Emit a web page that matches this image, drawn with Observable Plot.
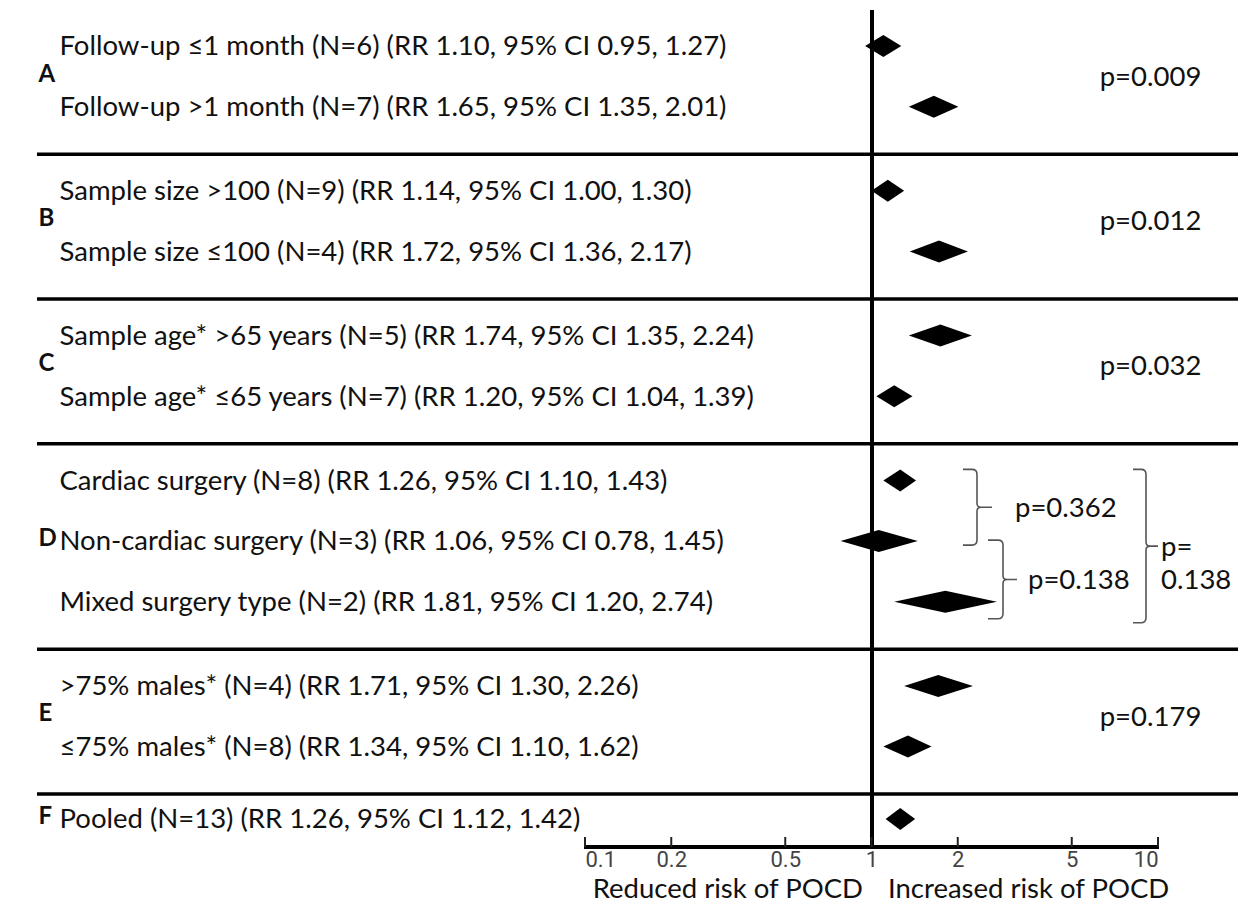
<!DOCTYPE html>
<html><head><meta charset="utf-8">
<script src="https://cdn.jsdelivr.net/npm/d3@7"></script>
<script src="https://cdn.jsdelivr.net/npm/@observablehq/plot@0.6"></script>
<style>
html,body{margin:0;padding:0;background:#fff;}
#chart svg{display:block;}
</style>
</head><body><div id="chart"></div>
<script>
// ---------- data ----------
const groups = ["A","A","B","B","C","C","D","D","D","E","E","F"];
const labels = [
  "Follow-up ≤1 month (N=6) (RR 1.10, 95% CI 0.95, 1.27)",
  "Follow-up >1 month (N=7) (RR 1.65, 95% CI 1.35, 2.01)",
  "Sample size >100 (N=9) (RR 1.14, 95% CI 1.00, 1.30)",
  "Sample size ≤100 (N=4) (RR 1.72, 95% CI 1.36, 2.17)",
  "Sample age* >65 years (N=5) (RR 1.74, 95% CI 1.35, 2.24)",
  "Sample age* ≤65 years (N=7) (RR 1.20, 95% CI 1.04, 1.39)",
  "Cardiac surgery (N=8) (RR 1.26, 95% CI 1.10, 1.43)",
  "Non-cardiac surgery (N=3) (RR 1.06, 95% CI 0.78, 1.45)",
  "Mixed surgery type (N=2) (RR 1.81, 95% CI 1.20, 2.74)",
  ">75% males* (N=4) (RR 1.71, 95% CI 1.30, 2.26)",
  "≤75% males* (N=8) (RR 1.34, 95% CI 1.10, 1.62)",
  "Pooled (N=13) (RR 1.26, 95% CI 1.12, 1.42)"
];
const rr     = [1.10, 1.65, 1.14, 1.72, 1.74, 1.20, 1.26, 1.06, 1.81, 1.71, 1.34, 1.26];
const ciLow  = [0.95, 1.35, 1.00, 1.36, 1.35, 1.04, 1.10, 0.78, 1.20, 1.30, 1.10, 1.12];
const ciHigh = [1.27, 2.01, 1.30, 2.17, 2.24, 1.39, 1.43, 1.45, 2.74, 2.26, 1.62, 1.42];
const groupPGroups = ["A","B","C","E"];
const groupPValues = ["p=0.009","p=0.012","p=0.032","p=0.179"];
const pairFrom = [6, 7, 6];
const pairTo   = [7, 8, 8];
const pairText = ["p=0.362", "p=0.138", "p=|0.138"];
const xTicks = [0.1, 0.2, 0.5, 1, 2, 5, 10];
const xTickLabels = ["0.1","0.2","0.5","1","2","5","10"];
const axisLabels = ["Reduced risk of POCD", "Increased risk of POCD"];

// ---------- layout (not data) ----------
const W = 1238, H = 908;
const ROW = 60.7;                   // px per row
const gapRatio = 23.4 / ROW;        // extra space between groups, in row units
const groupOrder = [...new Set(groups)];
const pooledGroup = groupOrder[groupOrder.length - 1];
// the pooled row sits closer to the subgroups (half a gap)
const gapCount = g => Math.min(groupOrder.indexOf(g), groupOrder.length - 2) + (g === pooledGroup ? 0.5 : 0);
const pos = groups.map((g, i) => i + gapCount(g) * gapRatio);
const yMax = pos[pos.length - 1];
const yRange = [46, 46 + ROW * yMax];
const halfH = 11 / ROW;             // diamond half-height in row units
const sepOffset = 47 / ROW;         // separator distance below a group's last row
const FONT = "Lato, 'Open Sans', 'Noto Sans', sans-serif";
const TICKFONT = "Roboto, 'Liberation Sans', sans-serif";
const MAIN_SIZE = 27.5;
const TICK_SIZE = 22;

const rows = labels.map((label, i) => ({label, group: groups[i], pos: pos[i], rr: rr[i], lo: ciLow[i], hi: ciHigh[i]}));
const diamondPts = rows.flatMap((r, i) => [
  {row: i, x: r.lo, y1: r.pos, y2: r.pos},
  {row: i, x: r.rr, y1: r.pos - halfH, y2: r.pos + halfH},
  {row: i, x: r.hi, y1: r.pos, y2: r.pos}
]);
const groupMid = g => d3.mean(rows.filter(r => r.group === g), r => r.pos);
const letters = groupOrder.map(g => ({g, pos: groupMid(g)}));
const separators = groupOrder.slice(0, -1).map(g =>
  d3.max(rows.filter(r => r.group === g), r => r.pos) + sepOffset);
const groupP = groupPGroups.map((g, i) => ({pos: groupMid(g), text: groupPValues[i]}));

// brace geometry (pixels): left x, spine x, tip x, text x, top pad, bottom pad
const braceLayout = [
  {x0: 963,  x1: 977,  x2: 992,  tx: 1015, top: -11, bottom: 4},
  {x0: 988,  x1: 1003, x2: 1017, tx: 1028, top: -1,  bottom: 17},
  {x0: 1133, x1: 1146, x2: 1158, tx: 1161, top: -11, bottom: 21}
];

function extras(index, scales, values, dims) {
  const xs = scales && scales.x ? scales.x : d3.scaleLog([0.1, 10], [585, 1158]);
  const ys = scales && scales.y ? scales.y : d3.scaleLinear([0, yMax], yRange);
  const g = d3.create("svg:g");
  const yAxis = dims.height - dims.marginBottom;
  // axis line + ticks
  g.append("line").attr("x1", xs(0.1) - 1).attr("x2", xs(10) + 1)
    .attr("y1", yAxis).attr("y2", yAxis).attr("stroke", "#000").attr("stroke-width", 4);
  for (const t of xTicks) {
    g.append("line").attr("x1", xs(t)).attr("x2", xs(t))
      .attr("y1", yAxis - 10).attr("y2", yAxis).attr("stroke", "#222").attr("stroke-width", 2);
  }
  // braces
  pairFrom.forEach((f, k) => {
    const L = braceLayout[k];
    const top = ys(pos[f]) + L.top, bot = ys(pos[pairTo[k]]) + L.bottom, mid = (top + bot) / 2;
    const r = 5;
    const d = `M${L.x0},${top} L${L.x1 - r},${top} Q${L.x1},${top} ${L.x1},${top + r}`
      + ` L${L.x1},${mid - 4} Q${L.x1},${mid} ${L.x1 + 4},${mid} L${L.x2},${mid}`
      + ` M${L.x1 + 4},${mid} Q${L.x1},${mid} ${L.x1},${mid + 4}`
      + ` L${L.x1},${bot - r} Q${L.x1},${bot} ${L.x1 - r},${bot} L${L.x0},${bot}`;
    g.append("path").attr("d", d).attr("fill", "none").attr("stroke", "#555").attr("stroke-width", 1.6);
    const lines = pairText[k].split("|");
    lines.forEach((ln, j) => {
      g.append("text").attr("x", L.tx).attr("y", mid + j * 33).attr("dy", "0.35em")
        .attr("text-anchor", "start")
        .attr("font-family", FONT).attr("font-size", MAIN_SIZE).attr("fill", "#111").text(ln);
    });
  });
  return g.node();
}

const plot = Plot.plot({
  width: W, height: H,
  marginTop: 10, marginBottom: 61, marginLeft: 37, marginRight: 0,
  x: {type: "log", domain: [0.1, 10], range: [585, 1158], axis: null},
  y: {domain: [0, yMax], range: yRange, axis: null},
  style: {fontFamily: FONT, background: "white", color: "black", overflow: "visible"},
  marks: [
    Plot.ruleY(separators, {stroke: "#000", strokeWidth: 3.5}),
    Plot.ruleX([1], {stroke: "#000", strokeWidth: 4}),
    Plot.areaY(diamondPts, {x: "x", y1: "y1", y2: "y2", z: "row", fill: "#000", curve: "linear"}),
    Plot.text(rows, {y: "pos", text: "label", frameAnchor: "left", dx: 22, textAnchor: "start",
      fontSize: MAIN_SIZE, fill: "#111"}),
    Plot.text(letters, {y: "pos", text: "g", frameAnchor: "left", dx: 1, dy: -3, textAnchor: "start",
      fontSize: 24, fontWeight: "bold", fill: "#111"}),
    Plot.text(groupP, {y: "pos", text: "text", frameAnchor: "right", dx: -88, textAnchor: "middle",
      fontSize: MAIN_SIZE, fill: "#111"}),
    Plot.text(xTicks.slice(0, 1), {x: d => d, text: () => xTickLabels[0], frameAnchor: "bottom", dy: 19,
      textAnchor: "start", fontSize: TICK_SIZE, fontFamily: TICKFONT, fill: "#444"}),
    Plot.text(xTicks.slice(1, -1), {x: d => d, text: (d, i) => xTickLabels[i + 1], frameAnchor: "bottom", dy: 19,
      textAnchor: "middle", fontSize: TICK_SIZE, fontFamily: TICKFONT, fill: "#444"}),
    Plot.text(xTicks.slice(-1), {x: d => d, text: () => xTickLabels[xTickLabels.length - 1], frameAnchor: "bottom", dy: 19,
      textAnchor: "end", fontSize: TICK_SIZE, fontFamily: TICKFONT, fill: "#444"}),
    Plot.text([axisLabels[0]], {x: () => 1, text: d => d, frameAnchor: "bottom", dy: 50, dx: -9,
      textAnchor: "end", fontSize: MAIN_SIZE, fill: "#111"}),
    Plot.text([axisLabels[1]], {x: () => 1, text: d => d, frameAnchor: "bottom", dy: 50, dx: 16,
      textAnchor: "start", fontSize: MAIN_SIZE, fill: "#111"}),
    extras
  ]
});
document.getElementById("chart").appendChild(plot);
</script>
</body></html>
